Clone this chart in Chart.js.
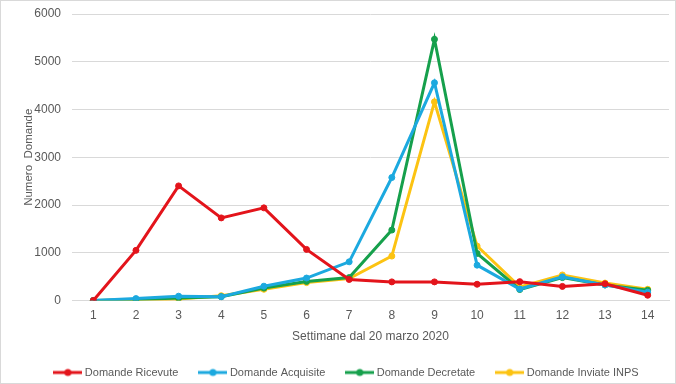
<!DOCTYPE html>
<html>
<head>
<meta charset="utf-8">
<script src="https://cdn.jsdelivr.net/npm/chart.js@4"></script>
<style>
  html, body { margin: 0; padding: 0; background: #fff; }
  #wrap { width: 676px; height: 384px; box-sizing: border-box; border: 1px solid #d9d9d9; position: relative; }
  #grafico { display: block; }
</style>
</head>
<body>
<div id="wrap"><canvas id="grafico" width="674" height="382"></canvas></div>
<script>
// settimane dal 20 marzo 2020
const settimane = ['1', '2', '3', '4', '5', '6', '7', '8', '9', '10', '11', '12', '13', '14'];

const domandeRicevute  = [0, 1050, 2400, 1730, 1940, 1070, 440, 390, 390, 340, 395, 295, 350, 110];
const domandeAcquisite = [0, 40, 90, 80, 300, 470, 810, 2575, 4560, 740, 240, 495, 325, 175];
const domandeDecretate = [0, 20, 50, 80, 260, 400, 480, 1475, 5470, 985, 230, 480, 325, 215];
const domandeInviate   = [0, 0, 30, 100, 235, 375, 460, 930, 4160, 1140, 285, 535, 365, 235];

const yTicks = [0, 1000, 2000, 3000, 4000, 5000, 6000];

const serie = [
    { label: 'Domande Ricevute',      data: domandeRicevute,  color: '#e3141b' },
    { label: 'Domande Acquisite',     data: domandeAcquisite, color: '#1ca9df' },
    { label: 'Domande Decretate',     data: domandeDecretate, color: '#16a04c' },
    { label: 'Domande Inviate INPS',  data: domandeInviate,   color: '#fcc312' }
];

// icona della legenda: linea con punto al centro
function iconaLegenda(color) {
    const c = document.createElement('canvas');
    c.width = 29; c.height = 10;
    const g = c.getContext('2d');
    g.strokeStyle = color;
    g.lineWidth = 3;
    g.beginPath(); g.moveTo(0, 5); g.lineTo(29, 5); g.stroke();
    g.fillStyle = color;
    g.beginPath(); g.arc(14.5, 5, 3.5, 0, Math.PI * 2); g.fill();
    return c;
}

const fontBase = "'Liberation Sans', Arial, sans-serif";
const grigio = '#595959';

new Chart(document.getElementById('grafico'), {
    type: 'line',
    data: {
        labels: settimane,
        datasets: serie.map(s => ({
            label: s.label,
            data: s.data,
            borderColor: s.color,
            backgroundColor: s.color,
            borderWidth: 3,
            pointRadius: 3,
            pointBorderWidth: 1,
            pointHoverRadius: 3,
            tension: 0
        }))
    },
    options: {
        responsive: false,
        animation: false,
        layout: { padding: { left: 25, right: 6, top: 13, bottom: -5 } },
        scales: {
            x: {
                offset: true,
                grid: { display: false, drawTicks: false },
                border: { color: '#d9d9d9' },
                ticks: { color: grigio, font: { family: fontBase, size: 12 }, padding: 8, maxRotation: 0 },
                title: { display: true, text: 'Settimane dal 20 marzo 2020', color: grigio, font: { family: fontBase, size: 12 }, padding: { top: 0, bottom: 0 } },
                afterFit: ax => { ax.height = 43.5; }
            },
            y: {
                min: 0,
                max: 6000,
                afterBuildTicks: ax => { ax.ticks = yTicks.map(v => ({ value: v })); },
                grid: { color: '#d9d9d9', drawTicks: false },
                border: { display: false },
                ticks: { color: grigio, font: { family: fontBase, size: 12 }, padding: 11, callback: v => String(v) },
                title: { display: true, text: 'Numero  Domande', color: grigio, font: { family: fontBase, size: 11.5 }, padding: { top: -4, bottom: 0 } },
                afterFit: ax => { ax.width = 46; ax.paddingTop = 0; ax.paddingBottom = 0; }
            }
        },
        plugins: {
            tooltip: { enabled: false },
            legend: {
                position: 'bottom',
                labels: {
                    color: grigio,
                    font: { family: fontBase, size: 11 },
                    usePointStyle: true,
                    pointStyleWidth: 23,
                    padding: 23,
                    generateLabels: chart => chart.data.datasets.map((d, i) => ({
                        text: d.label,
                        fontColor: grigio,
                        pointStyle: iconaLegenda(d.borderColor),
                        strokeStyle: d.borderColor,
                        fillStyle: d.borderColor,
                        lineWidth: 0,
                        hidden: false,
                        datasetIndex: i
                    }))
                }
            }
        }
    }
});
</script>
</body>
</html>
